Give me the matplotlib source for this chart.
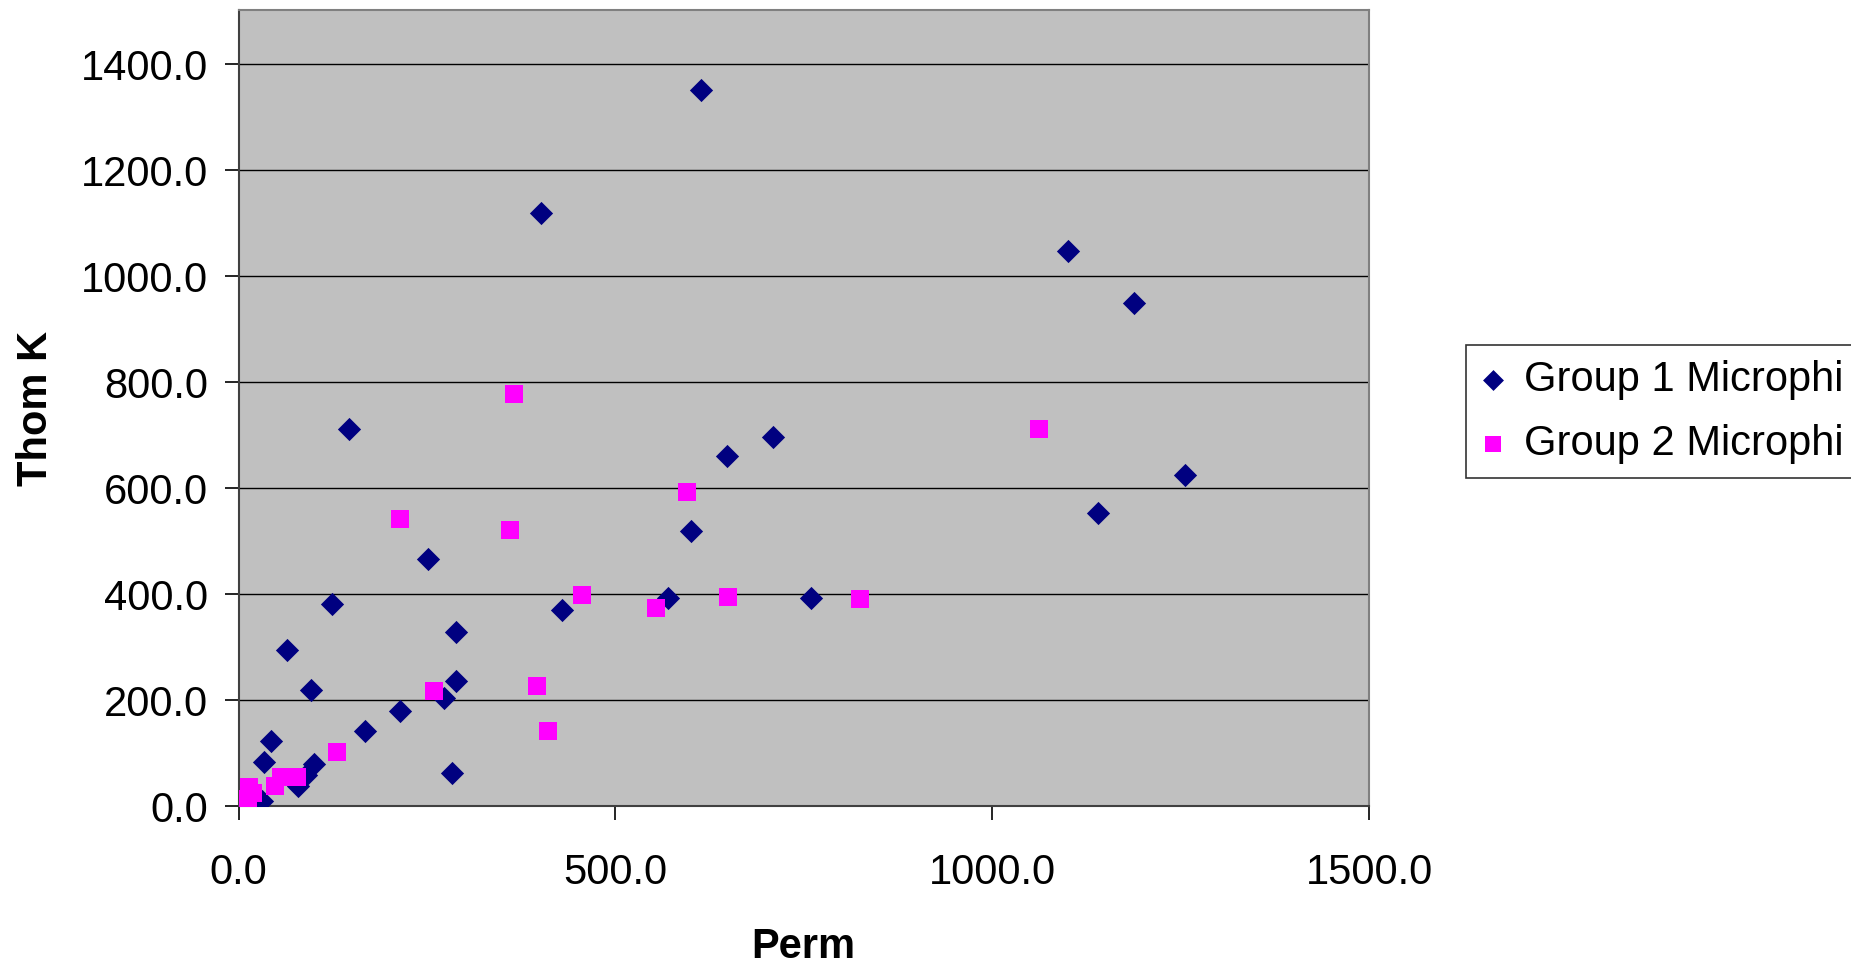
import matplotlib
matplotlib.use("Agg")
import matplotlib.pyplot as plt
from matplotlib.ticker import MultipleLocator, FormatStrFormatter

plt.rcParams['font.family'] = ['Liberation Sans', 'DejaVu Sans']

g1_perm = [614, 401, 1101, 1188, 146, 709, 648, 1256, 1141, 600, 252, 570, 759, 124,
           429, 289, 65, 289, 96, 273, 214, 168, 43, 34, 283, 100, 90, 79, 31, 20]
g1_thom = [1351, 1119, 1048, 950, 712, 697, 661, 625, 552, 519, 466, 392, 392, 382,
           370, 328, 294, 235, 218, 204, 180, 142, 122, 83, 63, 79, 58, 38, 10, 5]

g2_perm = [366, 1062, 595, 214, 360, 456, 650, 824, 554, 396, 260, 410, 131, 78, 56,
           49, 14, 19, 12, 0, 5]
g2_thom = [777, 712, 592, 541, 521, 398, 394, 390, 374, 227, 217, 141, 101, 55, 55,
           38, 36, 25, 14, 5, 3]

labels = ["Group 1 Microphi", "Group 2 Microphi"]

fig = plt.figure(figsize=(18.51, 9.66), dpi=100)
ax = fig.add_axes([238.5 / 1851, 1 - 806 / 966, (1369 - 238.5) / 1851, (806 - 10) / 966])
ax.set_facecolor('#C0C0C0')

ax.scatter(g1_perm, g1_thom, marker='D', s=140, color='#000080', label=labels[0],
           zorder=3, linewidths=0)
ax.scatter(g2_perm, g2_thom, marker='s', s=150, color='#FF00FF', label=labels[1],
           zorder=3, linewidths=0)

ax.set_xlim(0, 1500)
ax.set_ylim(0, 1502)
ax.xaxis.set_major_locator(MultipleLocator(500))
ax.yaxis.set_major_locator(MultipleLocator(200))
ax.xaxis.set_major_formatter(FormatStrFormatter('%.1f'))
ax.yaxis.set_major_formatter(FormatStrFormatter('%.1f'))
ax.grid(axis='y', color='black', linewidth=1.0, zorder=1)
ax.set_axisbelow(True)

for s in ['top', 'right']:
    ax.spines[s].set_color('#808080')
    ax.spines[s].set_linewidth(1.5)
for s in ['left', 'bottom']:
    ax.spines[s].set_color('#404040')
    ax.spines[s].set_linewidth(1.5)

ax.tick_params(axis='both', direction='out', length=10, width=1.2, colors='black',
               labelsize=30)
ax.tick_params(axis='x', pad=24)
ax.tick_params(axis='y', pad=12)

ax.set_xlabel('Perm', fontsize=30, fontweight='bold', labelpad=24)
ax.set_ylabel('Thom K', fontsize=30, fontweight='bold', labelpad=18)

leg = fig.legend(loc='upper left', bbox_to_anchor=(1466 / 1851, 1 - 345 / 966),
                 fontsize=30, frameon=True, fancybox=False, edgecolor='black',
                 handletextpad=0.45, borderpad=0.35, labelspacing=0.58,
                 handlelength=0.6, borderaxespad=0, markerscale=0.9)
leg.get_frame().set_linewidth(1.2)

fig.savefig('out.png', dpi=100)
